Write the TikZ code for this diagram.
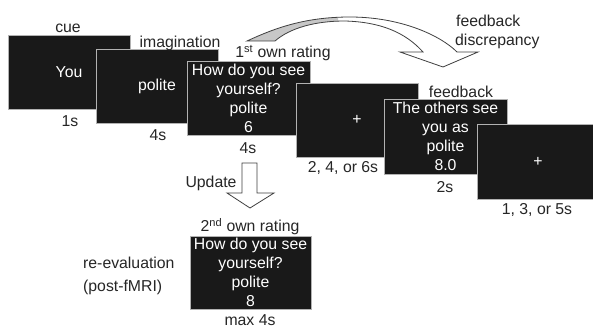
\documentclass[tikz,border=0pt]{standalone}
\usepackage{fontspec}
\setmainfont{Liberation Sans}
\begin{document}
\begin{tikzpicture}[x=1pt,y=-1pt,
  screen/.style={draw=black!30, line width=0.8pt, fill=black!90, text=white,
    minimum width=122pt, minimum height=74pt, inner sep=0pt, align=center,
    font=\fontsize{15.8}{19}\selectfont},
  lbl/.style={text=black!85, inner sep=0pt, font=\fontsize{15.8}{19}\selectfont},
  blockarrow/.style={draw=black!75, line width=0.8pt, fill=white, line join=miter}]
\useasboundingbox (0,0) rectangle (593,329);
\clip (0,0) rectangle (593,329);
\fill[white] (0,0) rectangle (593,329);

% trial screens, back to front
\node[screen] (cue) at (69,72) {You};
\node[screen] (imag) at (157,86) {polite};
\node[screen, minimum width=123pt] (rate1) at (248.5,98) {How do you see\\yourself?\\polite\\6};
\node[screen] (fix1) at (357,120) {+};
\node[screen, minimum width=123pt, minimum height=75pt] (fb) at (445.5,136.5) {The others see\\you as\\polite\\8.0};
\node[screen, minimum height=75pt] (fix2) at (538,161.5) {+};
\node[screen, minimum width=121pt, minimum height=73pt] (rate2) at (250.5,272.5) {How do you see\\yourself?\\polite\\8};

% phase labels and durations
\node[lbl] (lcue) at (68,28) {cue};
\node[lbl] (tcue) at (70,121) {1s};
\node[lbl] (limag) at (180,43) {imagination};
\node[lbl] (timag) at (158,135) {4s};
\node[lbl] (lrate1) at (283,53) {1\textsuperscript{st} own rating};
\node[lbl] (trate1) at (248,148) {4s};
\node[lbl] (tfix1) at (343,168) {2, 4, or 6s};
\node[lbl] (lfb) at (461,92) {feedback};
\node[lbl] (tfb) at (445,187) {2s};
\node[lbl] (tfix2) at (537,210) {1, 3, or 5s};
\node[lbl, anchor=west] (ldisc1) at (456,21) {feedback};
\node[lbl, anchor=west] (ldisc2) at (455,41) {discrepancy};
\node[lbl] (lupd) at (211,183) {Update};
\node[lbl] (lrate2) at (250,227) {2\textsuperscript{nd} own rating};
\node[lbl, anchor=west] (lre1) at (83,263) {re-evaluation};
\node[lbl, anchor=west] (lre2) at (83,287) {(post-fMRI)};
\node[lbl] (trate2) at (250,320) {max 4s};

% hollow down arrow: update
\draw[blockarrow] (242,163) -- (257,163) -- (257,193) -- (274,193) -- (250,208)
  -- (227,193) -- (242,193) -- cycle;

% curved hollow arrow: feedback discrepancy
\def\curvedarrow{(247,41) .. controls (275,28) and (305,17) .. (350,17)
  .. controls (400,17) and (440,35) .. (457,52) -- (478,52) -- (443,67)
  -- (400,52) -- (423,52) .. controls (405,32) and (380,22) .. (345,21)
  .. controls (315,21) and (290,28) .. (275,41) -- cycle}
\fill[white] \curvedarrow;
\begin{scope}
  \clip (240,0) rectangle (338,60);
  \fill[black!22] \curvedarrow;
\end{scope}
\draw[blockarrow, fill=none] \curvedarrow;
\end{tikzpicture}
\end{document}
